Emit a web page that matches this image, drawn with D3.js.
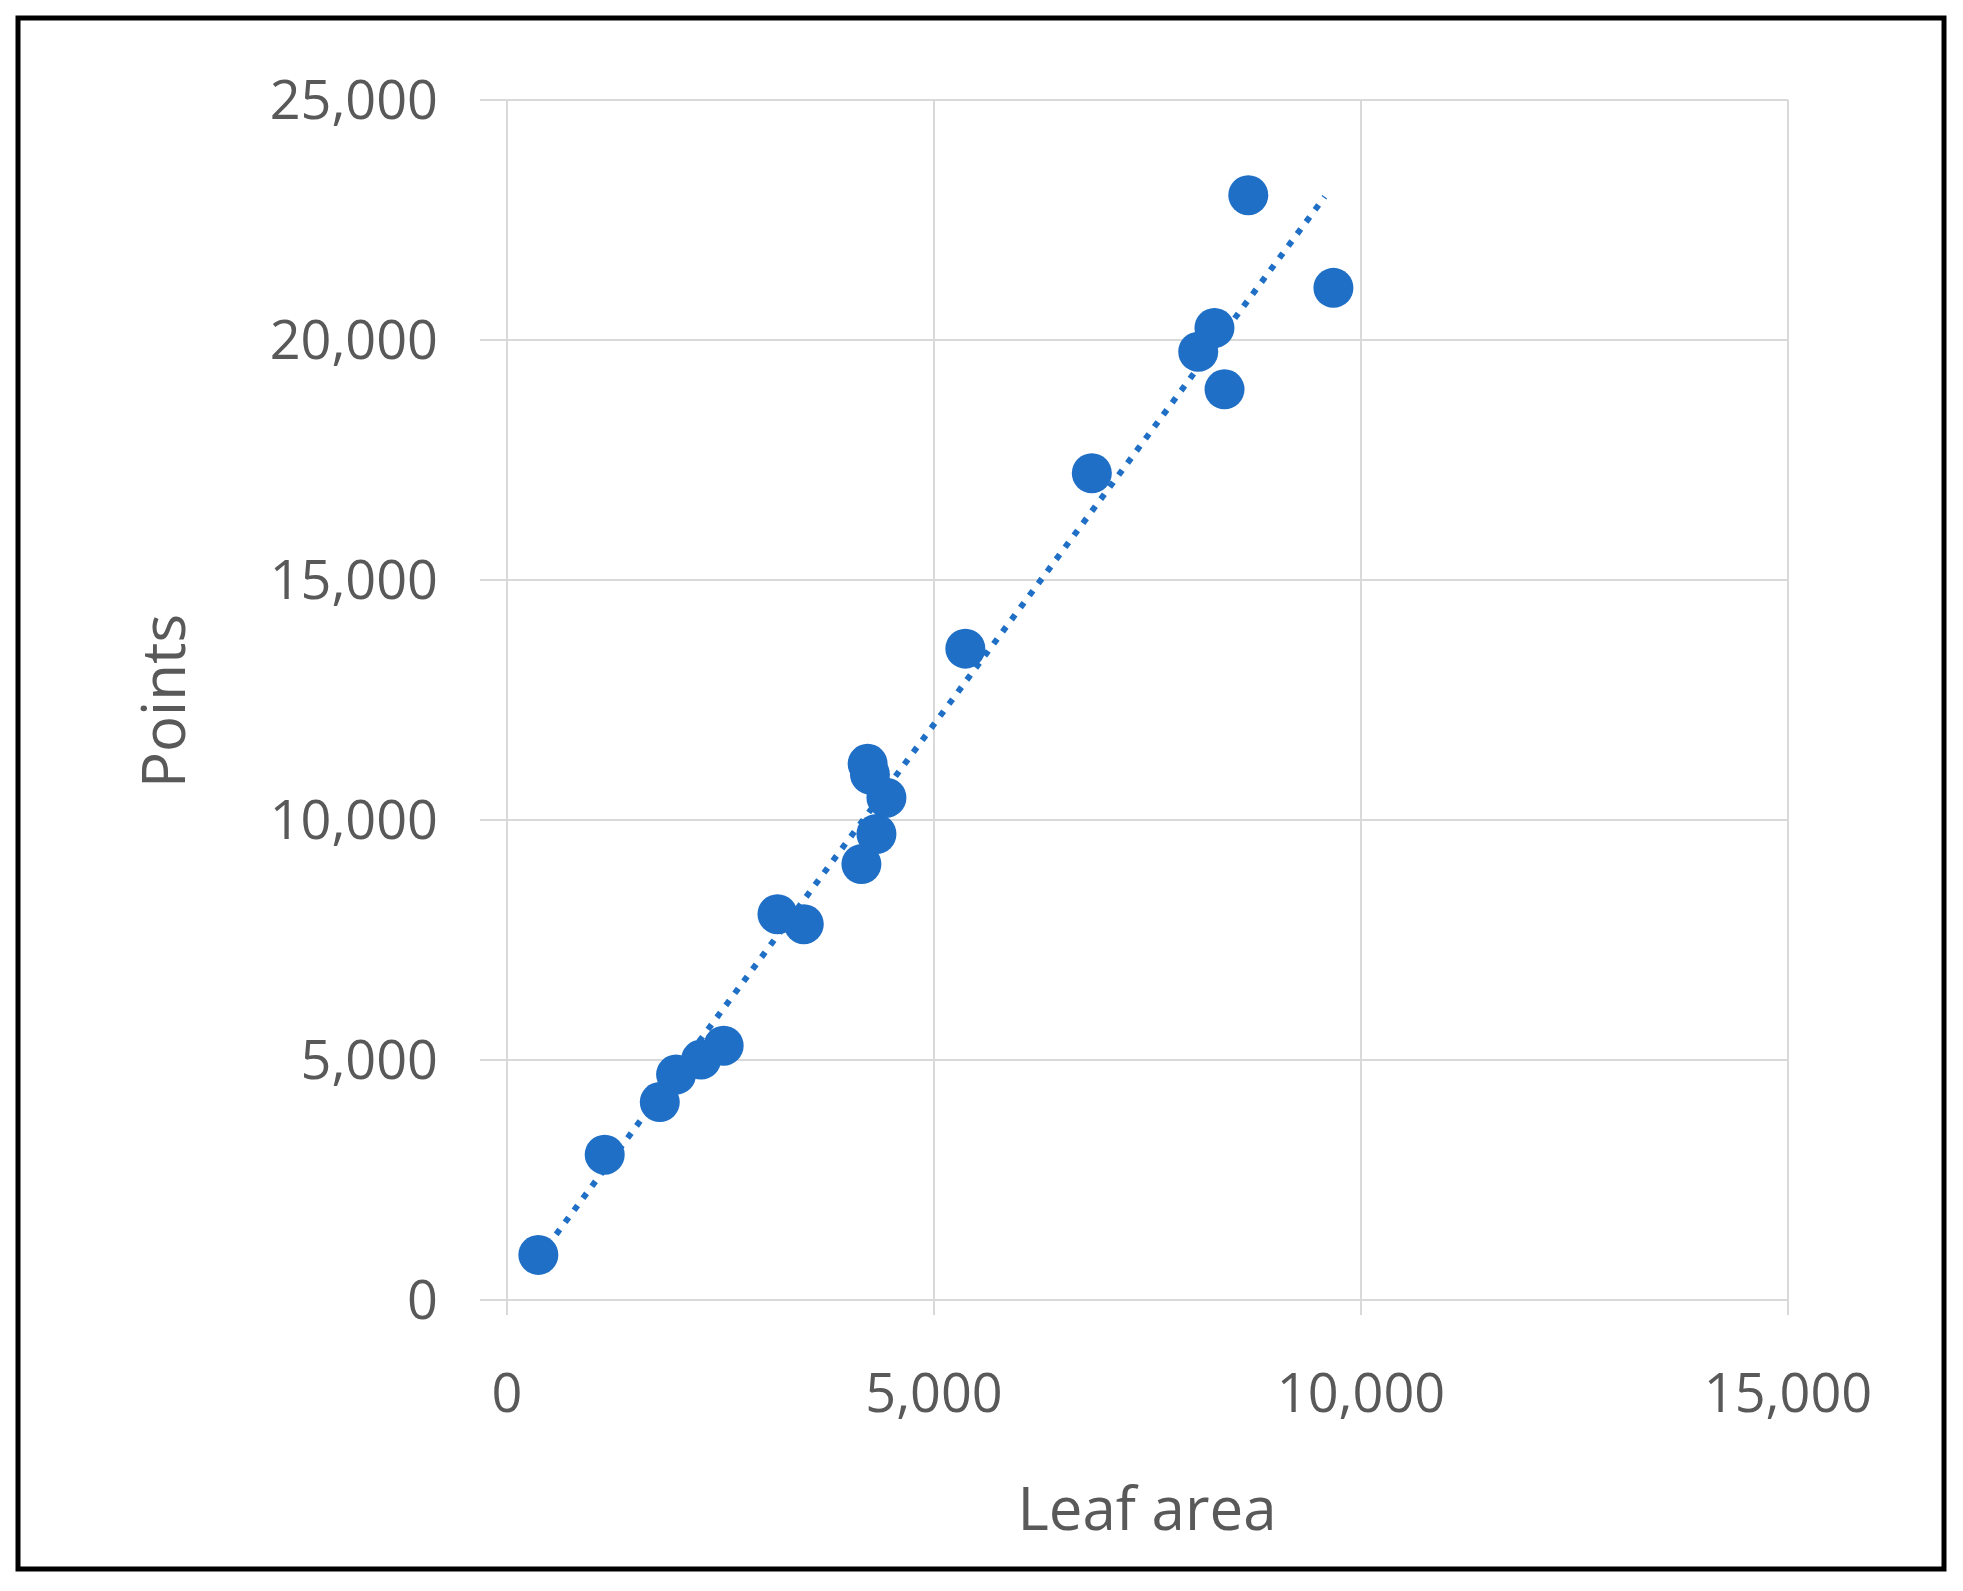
<!DOCTYPE html>
<html><head><meta charset="utf-8">
<script src="https://cdn.jsdelivr.net/npm/d3@7"></script>
<style>body{margin:0;background:#fff}</style></head>
<body><svg id="c" width="1963" height="1591"></svg>
<script>
const leafArea = [367,1144,1789,1980,2273,2537,3167,3475,4150,4326,4443,4223,4250,5367,6848,8094,8284,8402,8680,9677];
const points   = [940,3027,4123,4697,5010,5298,8038,7829,9081,9708,10465,11170,10950,13570,17224,19755,20251,18972,23017,21086];
const xTicks = [0,5000,10000,15000];
const yTicks = [0,5000,10000,15000,20000,25000];
const trendX = [367,9575];

const svg = d3.select("#c");
svg.append("rect").attr("x",18).attr("y",18).attr("width",1926).attr("height",1551)
  .attr("fill","#fff").attr("stroke","#000").attr("stroke-width",5);
const x = d3.scaleLinear().domain([0,15000]).range([507,1788]);
const y = d3.scaleLinear().domain([0,25000]).range([1300,100]);
const fmt = d3.format(",");
const grey="#595959", grid="#d9d9d9";

svg.append("g").selectAll("line").data(yTicks).join("line")
  .attr("x1",480).attr("x2",1788).attr("y1",d=>y(d)).attr("y2",d=>y(d))
  .attr("stroke",grid).attr("stroke-width",2);
svg.append("g").selectAll("line").data(xTicks).join("line")
  .attr("x1",d=>x(d)).attr("x2",d=>x(d)).attr("y1",100).attr("y2",1315)
  .attr("stroke",grid).attr("stroke-width",2);

svg.append("g").selectAll("text").data(yTicks).join("text")
  .attr("x",438).attr("y",d=>y(d)).attr("dy","0.35em").attr("text-anchor","end")
  .attr("font-family","Open Sans, sans-serif").attr("font-size",54).attr("fill",grey).text(fmt);
svg.append("g").selectAll("text").data(xTicks).join("text")
  .attr("x",d=>x(d)).attr("y",1412).attr("text-anchor","middle")
  .attr("font-family","Open Sans, sans-serif").attr("font-size",54).attr("fill",grey).text(fmt);

svg.append("text").attr("x",1147).attr("y",1530).attr("text-anchor","middle")
  .attr("font-family","Open Sans, sans-serif").attr("font-size",60).attr("fill",grey).text("Leaf area");
svg.append("text").attr("transform","translate(185,701) rotate(-90)").attr("text-anchor","middle")
  .attr("font-family","Open Sans, sans-serif").attr("font-size",60).attr("fill",grey).text("Points");

// least-squares trend line
const n=leafArea.length, mx=d3.mean(leafArea), my=d3.mean(points);
const b=d3.sum(leafArea.map((v,i)=>(v-mx)*(points[i]-my)))/d3.sum(leafArea.map(v=>(v-mx)**2));
const a=my-b*mx;
svg.append("line").attr("x1",x(trendX[0])).attr("y1",y(a+b*trendX[0]))
  .attr("x2",x(trendX[1])).attr("y2",y(a+b*trendX[1]))
  .attr("stroke","#1f6fc6").attr("stroke-width",6).attr("stroke-dasharray","6 9");

svg.append("g").selectAll("circle").data(leafArea).join("circle")
  .attr("cx",d=>x(d)).attr("cy",(d,i)=>y(points[i])).attr("r",20).attr("fill","#1f6fc6");
</script></body></html>
